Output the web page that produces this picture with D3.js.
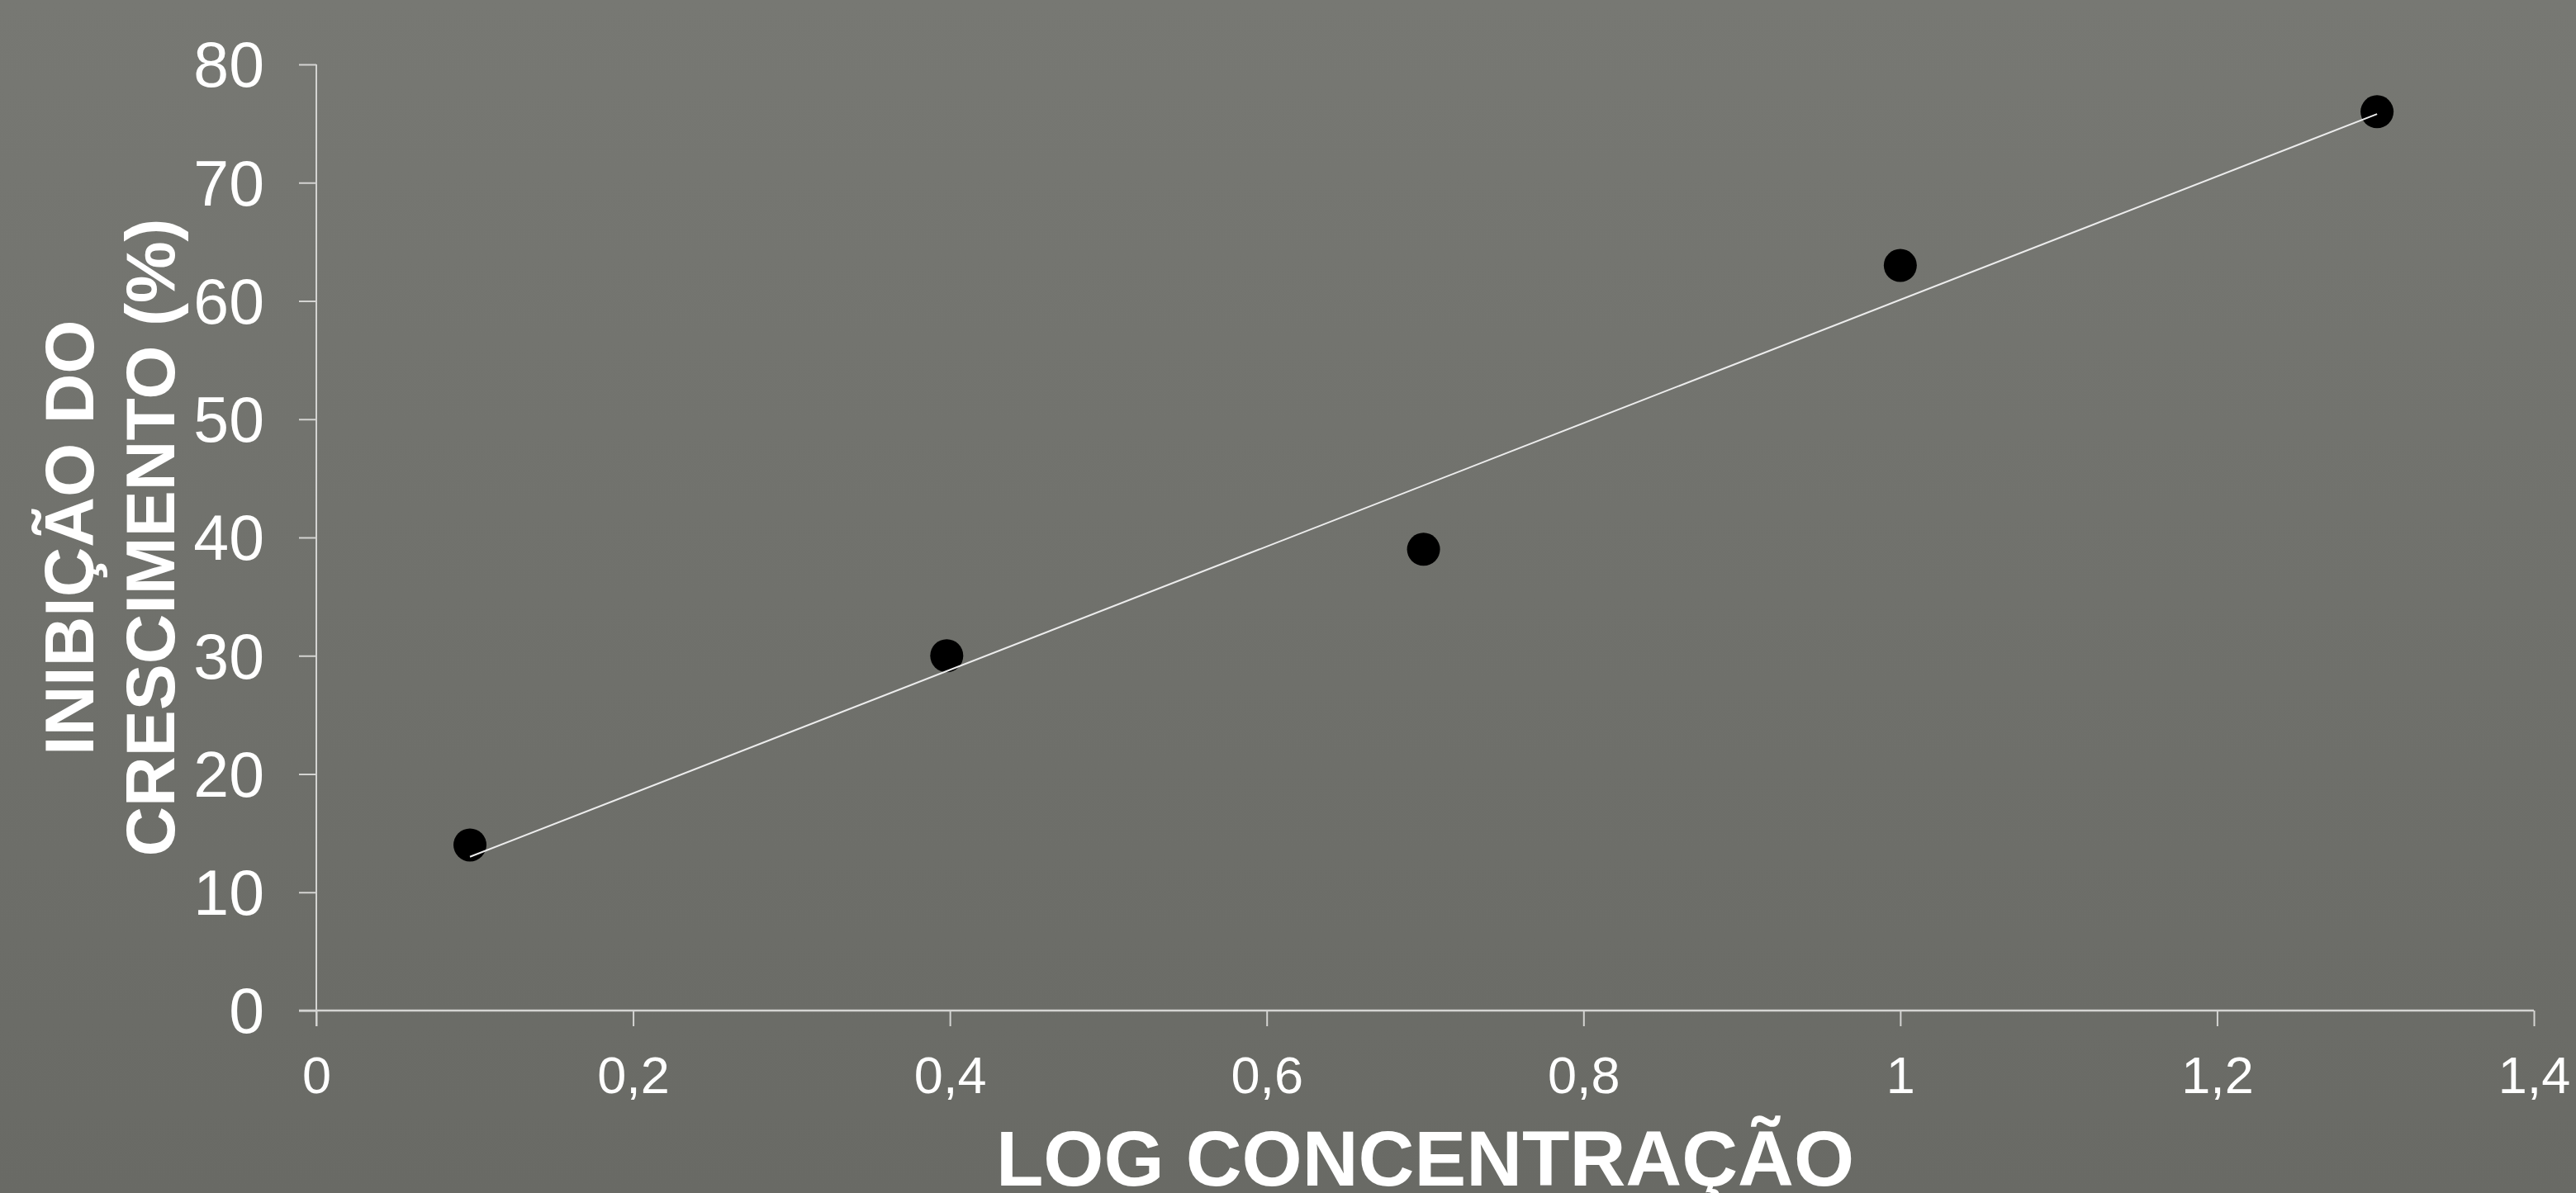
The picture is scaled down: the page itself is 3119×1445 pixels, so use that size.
<!DOCTYPE html>
<html>
<head>
<meta charset="utf-8">
<script src="https://cdn.jsdelivr.net/npm/d3@7"></script>
<style>
  html, body { margin: 0; padding: 0; background: #6f706b; }
  svg { display: block; }
</style>
</head>
<body>
<script>
// ---- data ----
const logConcentration = [0.097, 0.398, 0.699, 1.0, 1.301];
const inhibition = [14, 30, 39, 63, 76];
const xTickValues = [0, 0.2, 0.4, 0.6, 0.8, 1.0, 1.2, 1.4];
const yTickValues = [0, 10, 20, 30, 40, 50, 60, 70, 80];
const xTitle = "LOG CONCENTRAÇÃO";
const yTitleLines = ["INIBIÇÃO DO", "CRESCIMENTO (%)"];

const W = 3119, H = 1445;
const margin = { left: 383, right: W - 3068, top: 78, bottom: H - 1224 };

const svg = d3.select("body").append("svg").attr("width", W).attr("height", H);

const defs = svg.append("defs");
const grad = defs.append("linearGradient").attr("id", "bg").attr("x1", 0).attr("y1", 0).attr("x2", 0).attr("y2", 1);
grad.append("stop").attr("offset", "0%").attr("stop-color", "#777873");
grad.append("stop").attr("offset", "100%").attr("stop-color", "#696a65");
svg.append("rect").attr("width", W).attr("height", H).attr("fill", "url(#bg)");

const x = d3.scaleLinear().domain([0, 1.4]).range([margin.left, W - margin.right]);
const y = d3.scaleLinear().domain([0, 80]).range([H - margin.bottom, margin.top]);

const loc = d3.formatLocale({ decimal: ",", thousands: ".", grouping: [3], currency: ["", ""] });
const fmt = v => loc.format("~g")(+v.toFixed(2));

const font = "'Liberation Sans', Arial, sans-serif";
const axisColor = "#d4d4d2";

// Y axis
const yAxis = svg.append("g").attr("transform", `translate(${x(0)},0)`)
  .call(d3.axisLeft(y).tickValues(yTickValues).tickSize(21).tickPadding(0).tickFormat(fmt));
yAxis.select(".domain").remove();
yAxis.selectAll(".tick line").attr("stroke", axisColor).attr("stroke-width", 2);
yAxis.selectAll(".tick text")
  .attr("x", -63).attr("dy", "0.35em")
  .attr("fill", "#ffffff").style("font-family", font).style("font-size", "77px");

// X axis
const xAxis = svg.append("g").attr("transform", `translate(0,${y(0)})`)
  .call(d3.axisBottom(x).tickValues(xTickValues).tickSize(19).tickPadding(0).tickFormat(fmt));
xAxis.select(".domain").remove();
xAxis.selectAll(".tick line").attr("stroke", axisColor).attr("stroke-width", 2);
xAxis.selectAll(".tick text")
  .attr("y", 100).attr("dy", 0)
  .attr("fill", "#ffffff").style("font-family", font).style("font-size", "63px");

// axis lines
svg.append("line").attr("x1", x(0)).attr("x2", x(0)).attr("y1", y(80)).attr("y2", y(0) + 19)
  .attr("stroke", axisColor).attr("stroke-width", 2);
svg.append("line").attr("x1", x(0) - 21).attr("x2", x(1.4)).attr("y1", y(0)).attr("y2", y(0))
  .attr("stroke", axisColor).attr("stroke-width", 2.5);

// points
const pts = logConcentration.map((v, i) => ({ x: v, y: inhibition[i] }));
svg.append("g").selectAll("circle").data(pts).join("circle")
  .attr("cx", d => x(d.x)).attr("cy", d => y(d.y)).attr("r", 20).attr("fill", "#000000");

// linear trendline (least squares fit of the data)
const mx = d3.mean(pts, d => d.x), my = d3.mean(pts, d => d.y);
const slope = d3.sum(pts, d => (d.x - mx) * (d.y - my)) / d3.sum(pts, d => (d.x - mx) ** 2);
const intercept = my - slope * mx;
const xExt = d3.extent(logConcentration);
svg.append("line")
  .attr("x1", x(xExt[0])).attr("y1", y(intercept + slope * xExt[0]))
  .attr("x2", x(xExt[1])).attr("y2", y(intercept + slope * xExt[1]))
  .attr("stroke", "#ececec").attr("stroke-width", 2);

// titles
svg.append("text").attr("x", (x(0) + x(1.4)) / 2).attr("y", 1436)
  .attr("text-anchor", "middle").attr("fill", "#ffffff")
  .style("font-family", font).style("font-weight", "bold").style("font-size", "94px")
  .text(xTitle);

const cy = (y(0) + y(80)) / 2;
const yt = svg.append("text").attr("transform", `translate(113,${cy}) rotate(-90)`)
  .attr("text-anchor", "middle").attr("fill", "#ffffff")
  .style("font-family", font).style("font-weight", "bold").style("font-size", "84px");
yt.selectAll("tspan").data(yTitleLines).join("tspan")
  .attr("x", 0).attr("y", (d, i) => i * 98).text(d => d);
</script>
</body>
</html>
